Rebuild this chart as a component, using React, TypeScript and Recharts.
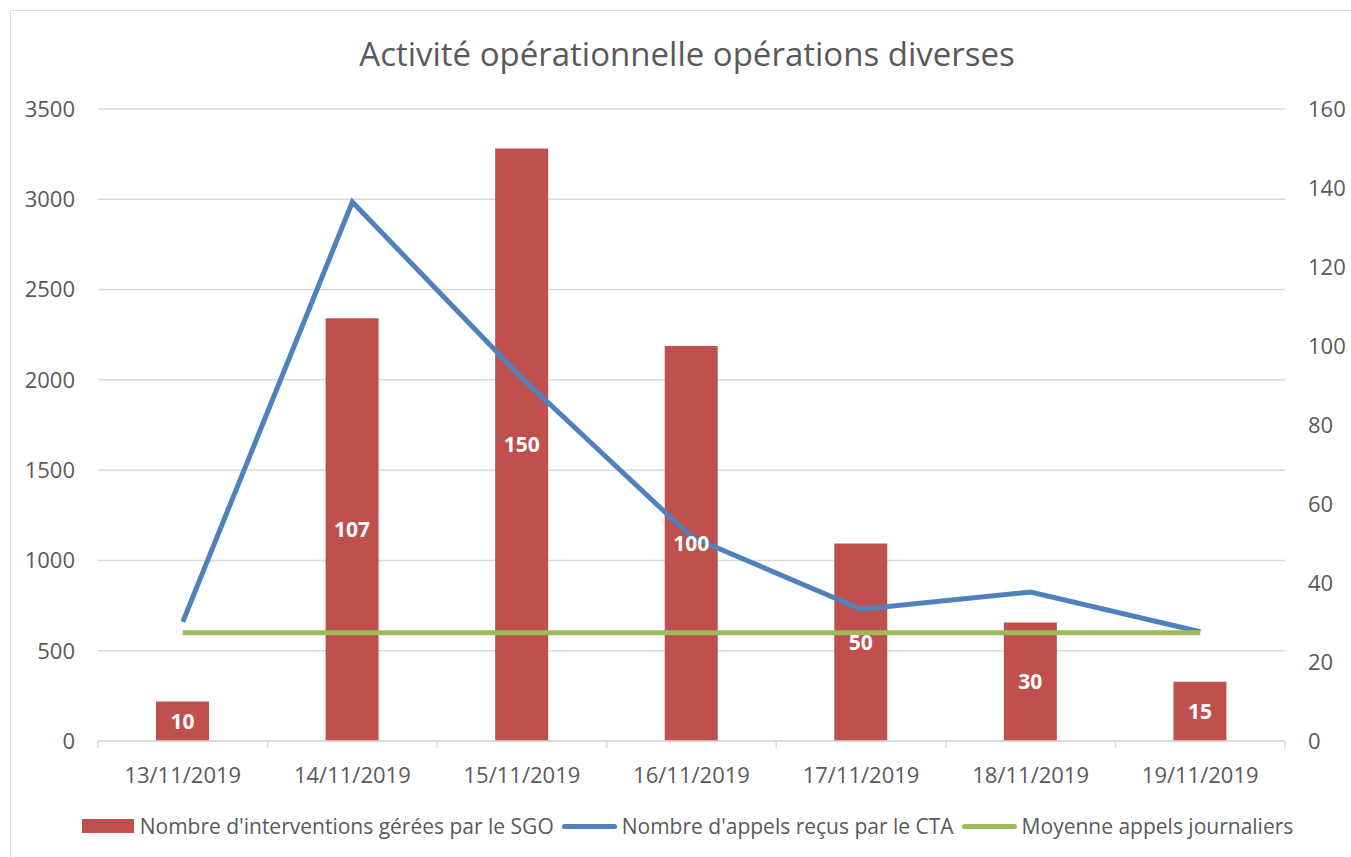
import React from "react";
import {
  ComposedChart,
  Bar,
  Line,
  XAxis,
  YAxis,
  CartesianGrid,
  Legend,
  LabelList,
} from "recharts";

const dates = [
  "13/11/2019",
  "14/11/2019",
  "15/11/2019",
  "16/11/2019",
  "17/11/2019",
  "18/11/2019",
  "19/11/2019",
];
const interventions = [10, 107, 150, 100, 50, 30, 15];
const appels = [660, 2985, 2010, 1130, 730, 825, 605];
const moyenne = [600, 600, 600, 600, 600, 600, 600];
const leftTicks = [0, 500, 1000, 1500, 2000, 2500, 3000, 3500];
const rightTicks = [0, 20, 40, 60, 80, 100, 120, 140, 160];

const data = dates.map((d, i) => ({
  date: d,
  interventions: interventions[i],
  appels: appels[i],
  moyenne: moyenne[i],
}));

const FONT = "'Open Sans', sans-serif";
const TEXT = "#595959";
const GRID = "#d9d9d9";

const DateTick = (props: any) => {
  const { x, y, payload, index, visibleTicksCount, width } = props;
  const band = width / visibleTicksCount;
  const left = x - band / 2;
  const top = y - 8;
  return (
    <g>
      <line x1={left} y1={top} x2={left} y2={top + 7} stroke={GRID} strokeWidth={1.5} />
      {index === visibleTicksCount - 1 && (
        <line x1={left + band} y1={top} x2={left + band} y2={top + 7} stroke={GRID} strokeWidth={1.5} />
      )}
      <text
        x={x}
        y={top + 33}
        textAnchor="middle"
        dominantBaseline="central"
        fill={TEXT}
        fontSize={22}
        fontFamily={FONT}
      >
        {payload.value}
      </text>
    </g>
  );
};

const legendItems = [
  { label: "Nombre d'interventions gérées par le SGO", color: "#c0504d", kind: "bar" },
  { label: "Nombre d'appels reçus par le CTA", color: "#4f81bd", kind: "line" },
  { label: "Moyenne appels journaliers", color: "#9bbb59", kind: "line" },
];

const ChartLegend = () => (
  <div
    style={{
      display: "flex",
      justifyContent: "center",
      alignItems: "center",
      height: 30,
      fontFamily: FONT,
      fontSize: 21,
      color: TEXT,
      paddingLeft: 30,
    }}
  >
    {legendItems.map((it) => (
      <div key={it.label} style={{ display: "flex", alignItems: "center", marginRight: 8 }}>
        {it.kind === "bar" ? (
          <span style={{ width: 52, height: 14, background: it.color, marginRight: 6 }} />
        ) : (
          <span
            style={{ width: 55, height: 5, borderRadius: 3, background: it.color, marginRight: 5 }}
          />
        )}
        <span>{it.label}</span>
      </div>
    ))}
  </div>
);

export default function App() {
  return (
    <div
      style={{
        position: "absolute",
        left: 0,
        top: 0,
        width: 1351,
        height: 857,
        background: "#fff",
        overflow: "hidden",
      }}
    >
      <div
        style={{
          position: "absolute",
          left: 10,
          top: 10,
          width: 1360,
          height: 870,
          border: "1.5px solid #d9d9d9",
        }}
      />
      <div
        style={{
          position: "absolute",
          left: 0,
          width: 1374,
          top: 31,
          textAlign: "center",
          fontFamily: FONT,
          fontSize: 33,
          color: TEXT,
        }}
      >
        Activité opérationnelle opérations diverses
      </div>
      <div style={{ position: "absolute", left: 0, top: 0 }}>
        <ComposedChart
          width={1351}
          height={857}
          data={data}
          margin={{ top: 109, right: 16, left: 18, bottom: 16 }}
        >
          <CartesianGrid yAxisId="left" vertical={false} stroke={GRID} strokeWidth={1.5} />
          <XAxis
            dataKey="date"
            height={70}
            interval={0}
            axisLine={{ stroke: GRID, strokeWidth: 1.5 }}
            tickLine={false}
            tick={<DateTick />}
          />
          <YAxis
            yAxisId="left"
            orientation="left"
            width={80}
            domain={[0, 3500]}
            ticks={leftTicks}
            axisLine={false}
            tickLine={false}
            tickSize={0}
            tickMargin={23}
            tick={{ fill: TEXT, fontSize: 22, fontFamily: FONT }}
          />
          <YAxis
            yAxisId="right"
            orientation="right"
            width={50}
            domain={[0, 160]}
            ticks={rightTicks}
            axisLine={false}
            tickLine={false}
            tickSize={0}
            tickMargin={23}
            tick={{ fill: TEXT, fontSize: 22, fontFamily: FONT, textAnchor: "start" }}
          />
          <Legend verticalAlign="bottom" height={30} content={<ChartLegend />} />
          <Bar
            yAxisId="right"
            dataKey="interventions"
            name="Nombre d'interventions gérées par le SGO"
            fill="#c0504d"
            barSize={53}
            isAnimationActive={false}
          >
            <LabelList
              dataKey="interventions"
              position="center"
              fill="#ffffff"
              fontSize={21}
              fontWeight="bold"
              fontFamily={FONT}
            />
          </Bar>
          <Line
            yAxisId="left"
            dataKey="appels"
            name="Nombre d'appels reçus par le CTA"
            stroke="#4f81bd"
            strokeWidth={5}
            dot={false}
            isAnimationActive={false}
          />
          <Line
            yAxisId="left"
            dataKey="moyenne"
            name="Moyenne appels journaliers"
            stroke="#9bbb59"
            strokeWidth={5}
            dot={false}
            isAnimationActive={false}
          />
        </ComposedChart>
      </div>
    </div>
  );
}
